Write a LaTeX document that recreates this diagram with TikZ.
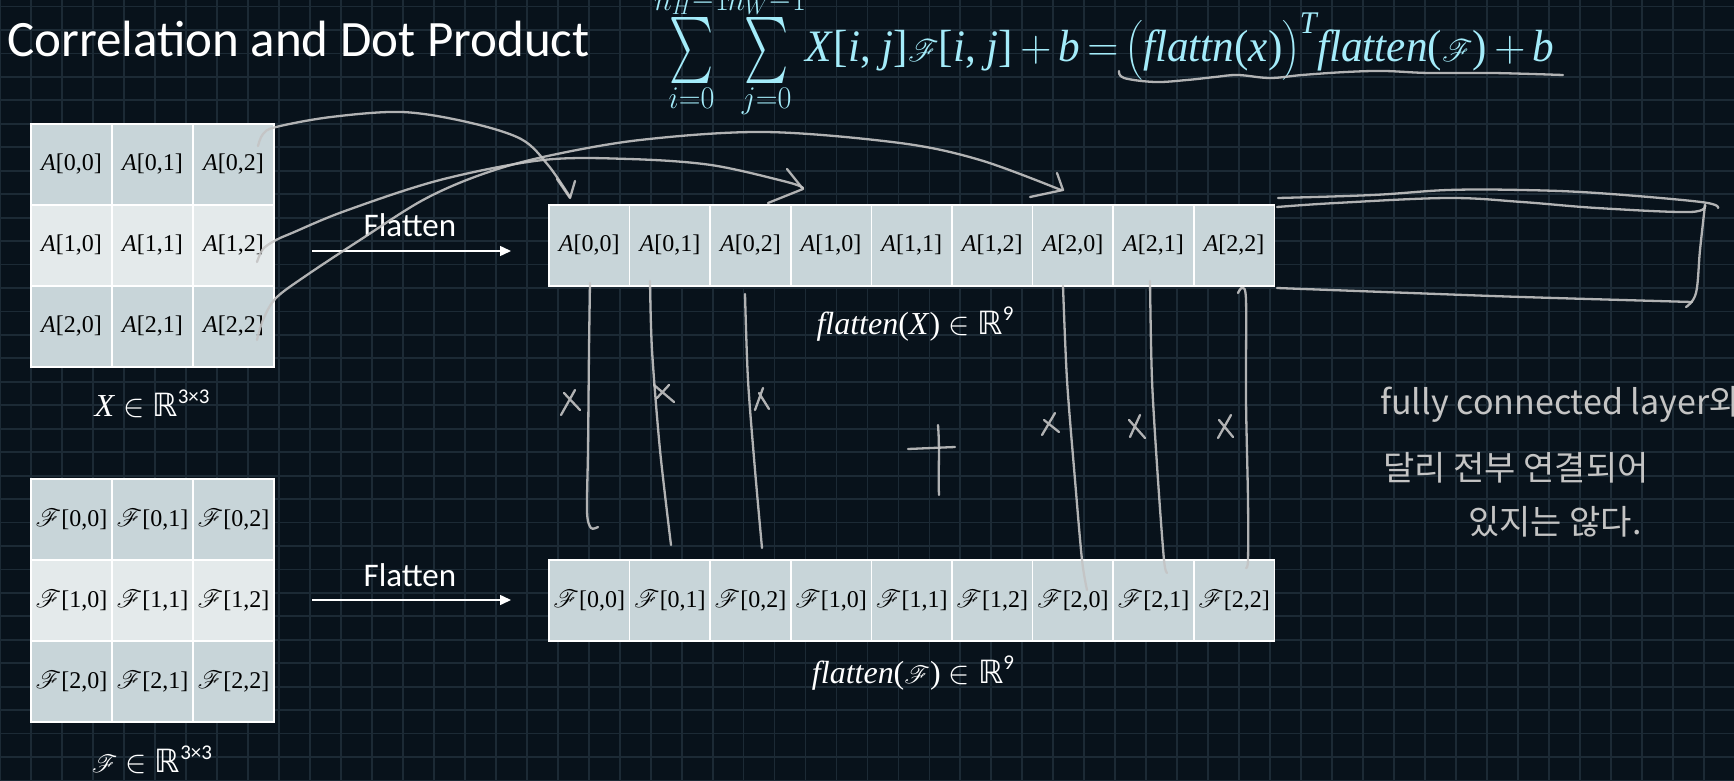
\RequirePackage{fix-cm}
\documentclass[tikz,border=0pt]{standalone}
\usepackage{fontspec}
\usepackage{amsmath}
\usepackage{mathrsfs}
\usepackage{graphicx}
\setmainfont{Liberation Serif}
\newfontfamily\uifont{Carlito}
\newfontfamily\krfont{Noto Sans CJK KR}
\newfontfamily\symfont{DejaVu Sans}
\usetikzlibrary{arrows.meta}

\definecolor{bg}{HTML}{08121B}
\definecolor{gridc}{HTML}{1C2A35}
\definecolor{celldark}{HTML}{C8D5D9}
\definecolor{celllight}{HTML}{E4EAEB}
\definecolor{eqcyan}{HTML}{A4ECFA}
\definecolor{chalk}{HTML}{C4C4C4}

\newcommand{\RR}{{\symfont ℝ}}
\newcommand{\vi}[1]{\textit{#1}}
\newcommand{\supsf}[1]{\raisebox{0.42em}{\uifont\fontsize{21}{23}\selectfont #1}}
% a summation sign drawn at a fixed size
\newcommand{\tallsum}{\mathop{\vcenter{\hbox{\resizebox*{46pt}{66pt}{$\textstyle\sum$}}}}\limits}
\newcommand{\bigF}{\scalebox{1.25}{$\mathscr{F}$}}

\begin{document}
\begin{tikzpicture}[x=1pt,y=-1pt,
  cellbase/.style={draw=white, line width=1.6pt, inner sep=0pt, text=black,
    font=\fontsize{24}{28}\selectfont},
  darkcell/.style={cellbase, fill=celldark, minimum width=81pt, minimum height=81pt},
  lightcell/.style={cellbase, fill=celllight, minimum width=81pt, minimum height=81pt},
  rowcell/.style={cellbase, fill=celldark, minimum width=80.6pt, minimum height=81pt},
  chalkline/.style={draw=chalk, line width=2.3pt, line cap=round, line join=round, opacity=0.9},
  mathlabel/.style={text=white, inner sep=0pt, font=\fontsize{32}{36}\selectfont},
  flatlabel/.style={text=white, inner sep=0pt, font=\uifont\fontsize{33}{38}\selectfont},
  flatarrow/.style={draw=white, line width=1.5pt, -{Triangle[length=11pt,width=10pt]}},
  note/.style={text=chalk, inner sep=0pt, anchor=base west, font=\krfont\fontsize{34}{40}\selectfont}
]
% canvas and grid paper
\fill[bg] (0,0) rectangle (1734,781);
\useasboundingbox (0,0) rectangle (1734,781);
\foreach \k in {0,...,56}
  \draw[gridc, line width=1.8pt] ({0.3+30.97*\k},0) -- ++(0,781);
\foreach \k in {0,...,33}
  \draw[gridc, line width=1.8pt] (0,{6.6+23.45*\k}) -- ++(1734,0);

% title
\node[anchor=base west, inner sep=0pt, text=white, font=\uifont\fontsize{51}{58}\selectfont]
  (title) at (7,57) {Correlation and Dot Product};

% formula
\node[anchor=base west, inner sep=0pt, text=eqcyan, font=\fontsize{45}{52}\selectfont]
  (eq) at (654,62) {\resizebox{900pt}{\height}{$\displaystyle
  \tallsum_{i=0}^{n_H-1}\hspace{-9pt}\tallsum_{j=0}^{n_W-1}$\vi{X}[\vi{i}, \vi{j}]\bigF[\vi{i}, \vi{j}]\,$+$\,\vi{b}\,$=$\,%
  $\big($\vi{flattn}(\vi{x})$\big)^{\vi{T}}$\vi{flatten}(\bigF)\,$+$\,\vi{b}}};

% input matrix X
\foreach \r/\st in {0/darkcell,1/lightcell,2/darkcell}
  \foreach \c in {0,1,2}
    \node[\st] (x\r\c) at ({71.5+81*\c},{164.5+81*\r}) {\textit{A}[\r,\c]};
\node[mathlabel] (xlab) at (152,404) {\vi{X} $\in$ \RR\supsf{3×3}};

% filter matrix F
\foreach \r/\st in {0/darkcell,1/lightcell,2/darkcell}
  \foreach \c in {0,1,2}
    \node[\st] (f\r\c) at ({71.5+81*\c},{519.5+81*\r}) {$\mathscr{F}$[\r,\c]};
\node[mathlabel] (flab) at (152,760) {$\mathscr{F}$ $\in$ \RR\supsf{3×3}};

% flattened rows
\foreach \k in {0,...,8} {
  \pgfmathtruncatemacro\r{floor(\k/3)}
  \pgfmathtruncatemacro\c{mod(\k,3)}
  \node[rowcell] (fx\r\c) at ({589.3+80.6*\k},245.5) {\textit{A}[\r,\c]};
  \node[rowcell] (ff\r\c) at ({589.3+80.6*\k},600.5) {$\mathscr{F}$[\r,\c]};
}
\node[mathlabel] (fxlab) at (915,324) {\vi{flatten}(\vi{X}) $\in$ \RR\supsf{9}};
\node[mathlabel] (fflab) at (913,673) {\vi{flatten}($\mathscr{F}$) $\in$ \RR\supsf{9}};

% flatten arrows
\coordinate (a1s) at (312,251); \coordinate (a1e) at (511,251);
\coordinate (a2s) at (312,600); \coordinate (a2e) at (511,600);
\draw[flatarrow] (a1s) -- (a1e);
\draw[flatarrow] (a2s) -- (a2e);
\node[flatlabel, anchor=base] (fl1) at (410,236) {Flatten};
\node[flatlabel, anchor=base] (fl2) at (410,586) {Flatten};

% chalk: wavy underline of the right-hand side
\draw[chalkline] plot[smooth, tension=0.6] coordinates {(1119,71) (1124,78) (1155,82) (1187,80)
  (1215,77) (1238,75) (1270,78) (1302,75) (1346,72) (1384,71) (1429,73) (1493,73) (1563,75)};

% chalk: rows of X carried onto the flat vector
\draw[chalkline] plot[smooth, tension=0.55] coordinates {(258,146) (263,134) (276,127) (331,117)
  (402,112) (467,122) (521,139) (548,165) (570,197)};
\draw[chalkline] (557,179) -- (570,198) -- (575,181);
\draw[chalkline] plot[smooth, tension=0.55] coordinates {(257,262) (263,249) (276,240) (292,233)
  (345,211) (440,180) (543,160) (629,159) (711,165) (787,182) (803,188)};
\draw[chalkline] (787,169) -- (803,189) -- (768,203);
\draw[chalkline] plot[smooth, tension=0.55] coordinates {(257,340) (263,320) (276,298) (307,275)
  (360,240) (423,200) (480,175) (543,157) (640,140) (765,132) (900,143) (980,160) (1061,190)};
\draw[chalkline] (1057,173) -- (1063,190) -- (1030,197);

% chalk: bracket around the missing connections
\draw[chalkline] plot[smooth, tension=0.6] coordinates {(1278,198) (1373,195) (1448,190) (1522,190)
  (1597,193) (1701,202) (1718,208)};
\draw[chalkline] plot[smooth, tension=0.6] coordinates {(1277,207) (1336,203) (1448,198) (1522,202)
  (1597,208) (1690,212) (1705,205)};
\draw[chalkline] plot[smooth, tension=0.6] coordinates {(1705,205) (1700,250) (1696,293) (1686,307)};
\draw[chalkline] plot[smooth, tension=0.6] coordinates {(1277,288) (1411,293) (1522,297) (1692,302)};

% chalk: element-wise products between the two vectors
\draw[chalkline] plot[smooth, tension=0.5] coordinates {(590,283) (589,350) (588,450) (587,512) (591,528) (598,527)};
\draw[chalkline] plot[smooth, tension=0.5] coordinates {(650,281) (652,350) (660,450) (671,545)};
\draw[chalkline] plot[smooth, tension=0.5] coordinates {(745,294) (748,380) (755,470) (762,548)};
\draw[chalkline] plot[smooth, tension=0.5] coordinates {(1063,286) (1067,380) (1075,480) (1082,560) (1087,590)};
\draw[chalkline] plot[smooth, tension=0.5] coordinates {(1150,281) (1152,380) (1158,480) (1164,560) (1167,573)};
\draw[chalkline] plot[smooth, tension=0.5] coordinates {(1238,293) (1242,288) (1246,300) (1246,400) (1248,500) (1248,560) (1246,568)};

\draw[chalkline] (561,415) -- (575,390) (564,393) -- (580,410);
\draw[chalkline] (654,385) -- (674,402) (657,398) -- (669,385);
\draw[chalkline] (755,410) -- (763,388) (759,393) -- (769,409);
\draw[chalkline] (1042,435) -- (1055,413) (1044,420) -- (1059,432);
\draw[chalkline] (1129,420) -- (1145,438) (1130,437) -- (1140,415);
\draw[chalkline] (1219,420) -- (1233,437) (1218,438) -- (1231,415);
\draw[chalkline] (938,425) .. controls (940,450) and (938,475) .. (939,495);
\draw[chalkline] (908,449) -- (955,447);

% handwritten note
\node[note] (n1) at (1380,414) {fully connected layer와};
\node[note] (n2) at (1383,480) {달리 전부 연결되어};
\node[note] (n3) at (1468,534) {있지는 않다.};
\end{tikzpicture}
\end{document}
